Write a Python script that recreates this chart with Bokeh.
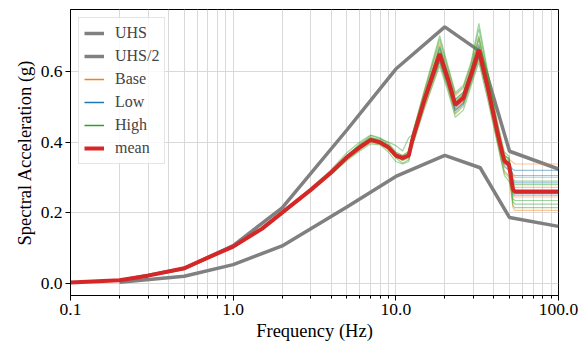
from bokeh.plotting import figure
from bokeh.models import FixedTicker, PrintfTickFormatter, Range1d, Legend, LegendItem
from bokeh.embed import file_html
from bokeh.resources import INLINE

# ---------------- data ----------------
UHS_FREQ = [0.2, 0.5, 1.0, 2.0, 5.0, 10.0, 20.0, 33.0, 50.0, 100.0]
UHS = [0.009, 0.043, 0.108, 0.214, 0.434, 0.606, 0.725, 0.655, 0.374, 0.324]
UHS_HALF = [v / 2 for v in UHS]

FREQ = [0.1, 0.2, 0.3, 0.5, 0.7, 1.0, 1.5, 2.0, 3.0, 4.0, 5.0, 6.0, 7.0, 8.0, 9.0,
        10.0, 11.0, 12.0, 12.6, 15.0, 18.6, 21.0, 23.2, 26.0, 29.0, 32.4, 36.7,
        41.9, 45.0, 46.5, 49.5, 52.5, 54.0, 100.0]

MEAN = [0.004, 0.010, 0.023, 0.044, 0.074, 0.105, 0.155, 0.201, 0.265, 0.314,
        0.357, 0.385, 0.406, 0.399, 0.385, 0.362, 0.355, 0.362, 0.404, 0.520,
        0.649, 0.575, 0.505, 0.525, 0.590, 0.660, 0.555, 0.432, 0.371, 0.347,
        0.338, 0.267, 0.260, 0.260]

BASE = [
    [0.004,0.010,0.023,0.045,0.075,0.106,0.157,0.203,0.268,0.318, 0.362,0.392,0.412,0.405,0.392, 0.370,0.362,0.372,0.418,0.545, 0.680,0.600,0.530,0.552,0.612, 0.695,0.585,0.455,0.392,0.365, 0.352,0.342,0.338,0.338],
    [0.004,0.010,0.023,0.043,0.073,0.104,0.153,0.199,0.262,0.310, 0.351,0.379,0.399,0.393,0.379, 0.356,0.348,0.354,0.392,0.498, 0.622,0.548,0.478,0.500,0.565, 0.632,0.528,0.405,0.340,0.312, 0.300,0.215,0.207,0.207],
    [0.004,0.010,0.023,0.044,0.074,0.105,0.156,0.202,0.266,0.315, 0.358,0.387,0.408,0.401,0.388, 0.365,0.357,0.366,0.410,0.530, 0.660,0.585,0.515,0.535,0.600, 0.672,0.565,0.440,0.378,0.352, 0.342,0.305,0.300,0.300],
    [0.004,0.010,0.023,0.044,0.074,0.105,0.155,0.200,0.264,0.313, 0.355,0.383,0.404,0.396,0.382, 0.360,0.352,0.360,0.400,0.515, 0.640,0.565,0.495,0.515,0.580, 0.650,0.545,0.425,0.362,0.338, 0.330,0.278,0.272,0.272],
    [0.004,0.010,0.023,0.044,0.074,0.105,0.154,0.200,0.263,0.312, 0.354,0.381,0.401,0.395,0.381, 0.358,0.350,0.357,0.398,0.510, 0.635,0.560,0.492,0.512,0.575, 0.645,0.540,0.420,0.358,0.333, 0.322,0.250,0.245,0.245],
]

LOW = [
    [0.004,0.010,0.023,0.044,0.074,0.105,0.155,0.201,0.265,0.314, 0.356,0.384,0.404,0.397,0.384, 0.360,0.352,0.358,0.398,0.508, 0.628,0.555,0.488,0.508,0.572, 0.640,0.540,0.425,0.370,0.348, 0.338,0.322,0.320,0.320],
    [0.004,0.010,0.023,0.044,0.074,0.105,0.156,0.202,0.266,0.316, 0.359,0.388,0.409,0.402,0.388, 0.366,0.358,0.366,0.408,0.524, 0.655,0.580,0.510,0.530,0.596, 0.668,0.562,0.438,0.376,0.350, 0.340,0.308,0.305,0.305],
    [0.004,0.010,0.023,0.044,0.073,0.104,0.154,0.200,0.264,0.312, 0.355,0.382,0.402,0.396,0.382, 0.358,0.351,0.357,0.398,0.512, 0.632,0.560,0.490,0.510,0.575, 0.642,0.540,0.418,0.352,0.330, 0.320,0.290,0.285,0.285],
    [0.004,0.010,0.023,0.045,0.075,0.106,0.156,0.202,0.266,0.316, 0.360,0.389,0.410,0.403,0.389, 0.366,0.359,0.368,0.412,0.530, 0.668,0.590,0.520,0.540,0.604, 0.676,0.570,0.445,0.380,0.350, 0.336,0.270,0.265,0.265],
    [0.004,0.010,0.023,0.044,0.074,0.105,0.155,0.201,0.265,0.314, 0.356,0.384,0.404,0.397,0.383, 0.360,0.353,0.360,0.402,0.516, 0.642,0.568,0.498,0.518,0.582, 0.652,0.548,0.428,0.365,0.340, 0.328,0.255,0.250,0.250],
]

HIGH = [
    [0.004,0.010,0.023,0.045,0.075,0.106,0.157,0.204,0.270,0.322, 0.370,0.400,0.420,0.412,0.398, 0.372,0.362,0.374,0.420,0.548, 0.700,0.612,0.540,0.560,0.625, 0.735,0.600,0.462,0.398,0.372, 0.360,0.295,0.290,0.290],
    [0.004,0.010,0.023,0.043,0.073,0.104,0.153,0.199,0.262,0.308, 0.348,0.375,0.395,0.392,0.372, 0.345,0.338,0.345,0.385,0.495, 0.615,0.540,0.470,0.490,0.558, 0.625,0.520,0.400,0.335,0.305, 0.290,0.260,0.255,0.255],
    [0.004,0.010,0.023,0.044,0.074,0.105,0.156,0.202,0.267,0.318, 0.363,0.392,0.410,0.408,0.400, 0.390,0.375,0.412,0.420,0.540, 0.690,0.605,0.535,0.555,0.618, 0.720,0.592,0.450,0.385,0.360, 0.355,0.240,0.235,0.235],
    [0.004,0.010,0.023,0.044,0.074,0.105,0.155,0.201,0.265,0.312, 0.352,0.380,0.402,0.400,0.385, 0.355,0.340,0.350,0.390,0.505, 0.628,0.552,0.482,0.505,0.570, 0.640,0.535,0.410,0.345,0.318, 0.305,0.230,0.225,0.225],
    [0.004,0.010,0.023,0.044,0.074,0.105,0.156,0.203,0.267,0.317, 0.362,0.391,0.414,0.404,0.390, 0.362,0.348,0.360,0.408,0.528, 0.672,0.592,0.520,0.542,0.605, 0.700,0.578,0.445,0.380,0.355, 0.348,0.220,0.215,0.215],
    [0.004,0.010,0.023,0.044,0.074,0.105,0.154,0.200,0.264,0.315, 0.360,0.395,0.418,0.410,0.392, 0.368,0.356,0.366,0.412,0.535, 0.664,0.585,0.512,0.535,0.600, 0.690,0.572,0.440,0.382,0.362, 0.352,0.285,0.280,0.280],
]

X_TICKS = [0.1, 1.0, 10.0, 100.0]
X_MINOR = [0.2, 0.3, 0.4, 0.5, 0.6, 0.7, 0.8, 0.9,
           2, 3, 4, 5, 6, 7, 8, 9,
           20, 30, 40, 50, 60, 70, 80, 90]
Y_TICKS = [0.0, 0.2, 0.4, 0.6]

# ---------------- figure ----------------
FONT = "Liberation Serif"
GRID = "#d9d9d9"
NAN = float("nan")

p = figure(width=588, height=344, x_axis_type="log",
           x_range=Range1d(0.1, 100), y_range=Range1d(-0.033, 0.774),
           output_backend="svg", toolbar_location=None,
           min_border_left=70, min_border_right=30,
           min_border_top=9, min_border_bottom=49)

p.outline_line_color = "black"
p.outline_line_width = 1
p.outline_line_alpha = 1

r_uhs = p.line(UHS_FREQ, UHS, color="gray", line_width=3.5)
r_half = p.line(UHS_FREQ, UHS_HALF, color="gray", line_width=3.5)

groups = [("Base", BASE, "#ff7f0e"), ("Low", LOW, "#1f77b4"), ("High", HIGH, "#2ca02c")]
legend_dummies = {}
for name, curves, col in groups:
    for c in curves:
        assert len(c) == len(FREQ)
        p.line(FREQ, c, color=col, line_width=1.2, line_alpha=0.45)
    # legend stand-in (no visible data)
    legend_dummies[name] = p.line([NAN], [NAN], color=col, line_width=1.5)

r_mean = p.line(FREQ, MEAN, color="#d62728", line_width=4)

legend = Legend(items=[
    LegendItem(label="UHS", renderers=[r_uhs]),
    LegendItem(label="UHS/2", renderers=[r_half]),
    LegendItem(label="Base", renderers=[legend_dummies["Base"]]),
    LegendItem(label="Low", renderers=[legend_dummies["Low"]]),
    LegendItem(label="High", renderers=[legend_dummies["High"]]),
    LegendItem(label="mean", renderers=[r_mean]),
], location="top_left")
legend.margin = 8
legend.padding = 5
legend.spacing = 3
legend.glyph_width = 20
legend.glyph_height = 20
legend.label_height = 20
legend.label_standoff = 11
legend.label_text_font = FONT
legend.label_text_font_size = "16px"
legend.border_line_color = "#cccccc"
legend.border_line_width = 1
legend.background_fill_alpha = 0.8
p.add_layout(legend)

# axes
p.xaxis.ticker = FixedTicker(ticks=X_TICKS, minor_ticks=X_MINOR)
p.xaxis.formatter = PrintfTickFormatter(format="%.1f")
p.yaxis.ticker = FixedTicker(ticks=Y_TICKS)
p.yaxis.formatter = PrintfTickFormatter(format="%.1f")

p.xaxis.axis_label = "Frequency (Hz)"
p.yaxis.axis_label = "Spectral Acceleration (g)"

for ax in (p.xaxis, p.yaxis):
    ax.axis_label_text_font = FONT
    ax.axis_label_text_font_size = "18.5px"
    ax.axis_label_text_font_style = "normal"
    ax.axis_label_text_color = "black"
    ax.major_label_text_font = FONT
    ax.major_label_text_font_size = "17.5px"
    ax.major_label_text_color = "black"
    ax.axis_line_color = "black"
    ax.major_tick_line_color = "black"
    ax.major_tick_in = 0
    ax.major_tick_out = 5
    ax.minor_tick_in = 0
    ax.minor_tick_out = 3
    ax.major_label_standoff = 3
    ax.axis_label_standoff = 3

p.yaxis.minor_tick_line_color = None
p.xaxis.minor_tick_line_color = "black"

p.xgrid.grid_line_color = GRID
p.xgrid.minor_grid_line_color = GRID
p.ygrid.grid_line_color = GRID

open("out.html", "w").write(file_html(p, INLINE))
